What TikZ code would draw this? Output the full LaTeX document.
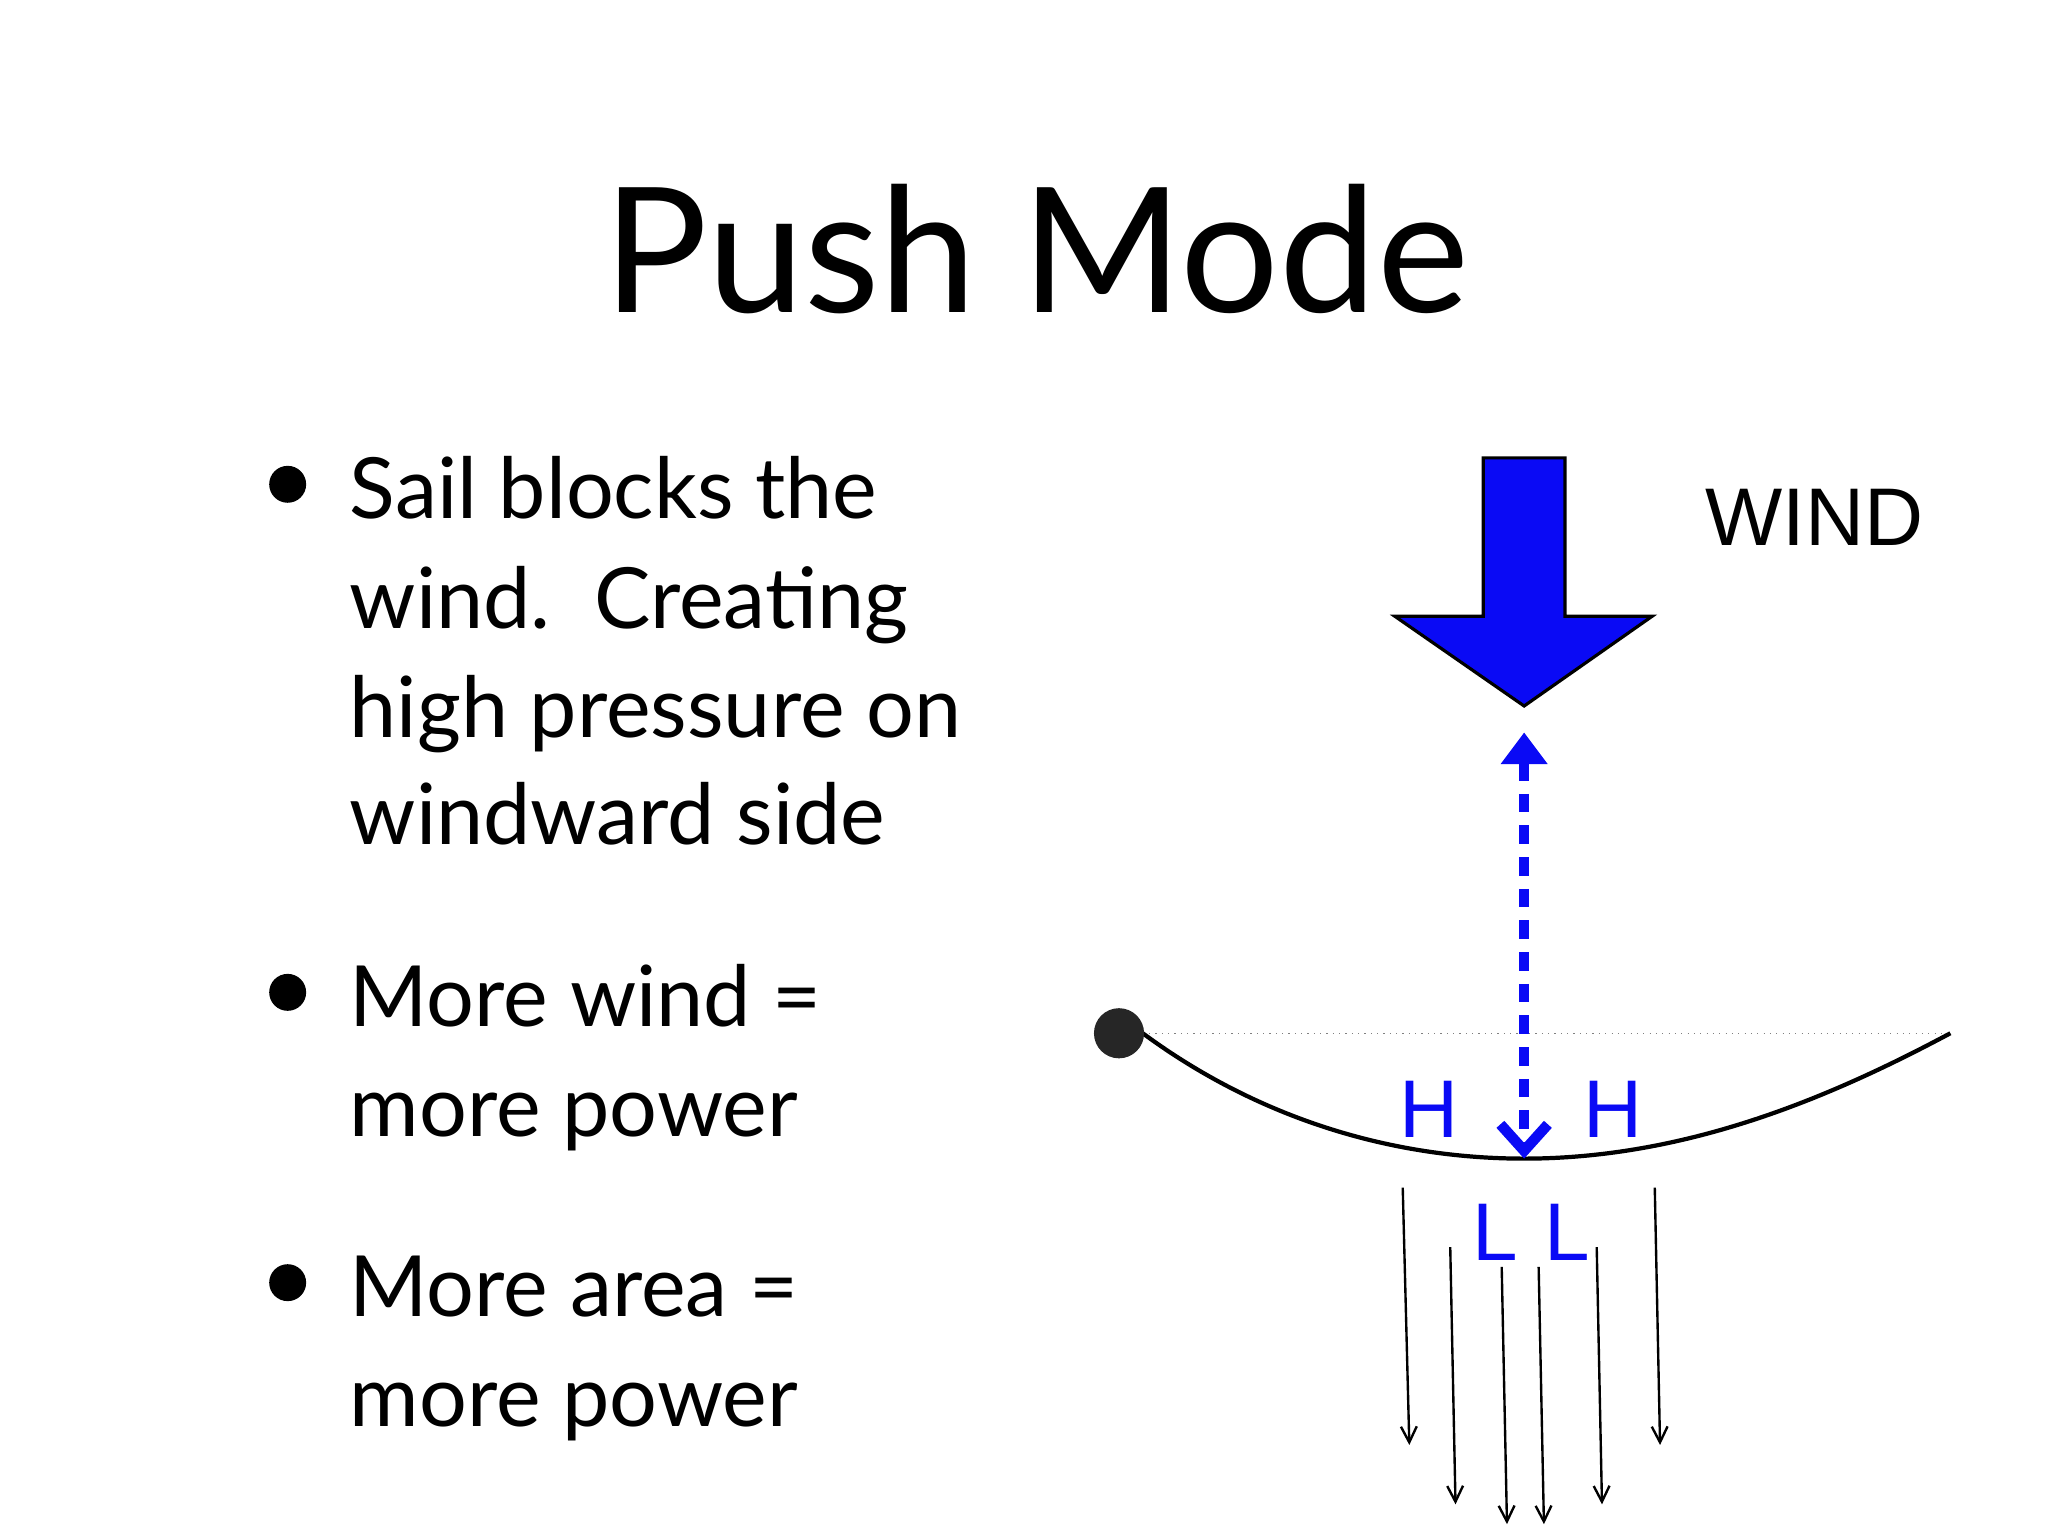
\documentclass[tikz,border=0pt]{standalone}
\usepackage{fontspec}
\setmainfont{Lato}
\newfontfamily\hel{Liberation Sans}
\usetikzlibrary{arrows.meta}
\definecolor{wblue}{RGB}{10,10,245}
\begin{document}
\begin{tikzpicture}[x=0.5pt,y=-0.5pt,
  bul/.style={anchor=base west,font=\fontsize{32}{40}\selectfont,align=left},
  hl/.style={text=wblue,font=\hel\fontsize{31}{31}\selectfont,anchor=base},
  flow/.style={-{Straight Barb[length=6pt,width=6pt]},line width=0.9pt}]
\useasboundingbox (0,0) rectangle (1552,1164);
\fill[white] (0,0) rectangle (1552,1164);
\node[anchor=base,font=\fontsize{66}{70}\selectfont] (title) at (785,237) {Push Mode};
\node[bul] (b1) at (200,393) {};
\fill (218,367) circle (14);
\node[anchor=base west,font=\fontsize{32}{41.5}\selectfont,align=left,text width=300pt] (t1) at (258,393) {};
\node[bul] (l1) at (258,393) {Sail blocks the};
\node[bul] (l2) at (258,476) {wind.\ \ Creating};
\node[bul] (l3) at (258,559) {high pressure on};
\node[bul] (l4) at (258,640) {windward side};
\fill (218,752) circle (14);
\node[bul] (l5) at (258,778) {More wind =};
\node[bul] (l6) at (258,861) {more power};
\fill (218,972) circle (14);
\node[bul] (l7) at (258,998) {More area =};
\node[bul] (l8) at (258,1081) {more power};
% big arrow
\draw[fill=wblue,line width=1.2pt,line join=miter] (1124,347) -- (1186,347) -- (1186,467) -- (1252,467) -- (1155,535) -- (1057,467) -- (1124,467) -- cycle;
\node[anchor=base,font=\hel\fontsize{31}{31}\selectfont] (wind) at (1375,413) {WIND};
% sail
\coordinate (mast) at (848,783);
\coordinate (s1) at (866,783);
\coordinate (s2) at (1478,783);
\coordinate (bot) at (1155,878);
\draw[gray,line width=0.4pt,dotted] (s1) -- (s2);
\draw[line width=1.6pt] (s1) .. controls (950,845) and (1050,878) .. (bot) .. controls (1280,878) and (1390,830) .. (s2);
\fill[black!85] (mast) circle (19);
% dashed arrow
\coordinate (dtop) at (1155,555);
\draw[wblue,line width=4pt,dash pattern=on 7pt off 5pt,{Triangle[length=12pt,width=17pt]}-{Straight Barb[length=10pt,width=18pt]}] (dtop) -- (bot);
\node[hl] (h1) at (1083,862) {H};
\node[hl] (h2) at (1222,862) {H};
\node[hl] (lo1) at (1133,955) {L};
\node[hl] (lo2) at (1188,955) {L};
% flow lines
\foreach \i/\xa/\ya/\xb/\yb in {1/1063/900/1068/1095,2/1099/945/1103/1140,3/1138/960/1142/1155,4/1166/960/1170/1155,5/1210/945/1214/1140,6/1254/900/1258/1095}{
  \coordinate (fa\i) at (\xa,\ya); \coordinate (fb\i) at (\xb,\yb);
  \draw[flow] (fa\i) -- (fb\i);}
\end{tikzpicture}
\end{document}
